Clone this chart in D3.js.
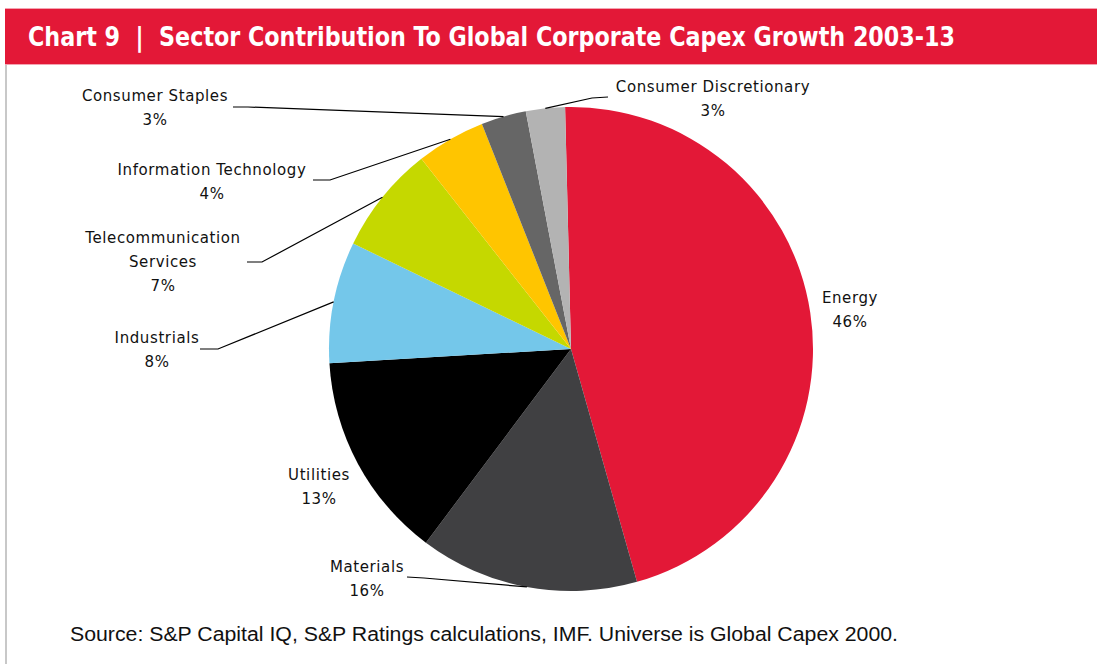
<!DOCTYPE html>
<html lang="en">
<head>
<meta charset="UTF-8">
<title>Sector Contribution To Global Corporate Capex Growth</title>
<script src="https://cdnjs.cloudflare.com/ajax/libs/d3/7.8.5/d3.min.js"></script>
<style>
  html, body { margin: 0; padding: 0; background: #fff; }
  svg { display: block; }
</style>
</head>
<body>
<div id="chart"></div>
<script>
    // data (slice share as drawn, label as printed)
    var sectors = ["Energy", "Materials", "Utilities", "Industrials",
                   "Telecommunication Services", "Information Technology",
                   "Consumer Staples", "Consumer Discretionary"];
    var shares = [45.9, 14.6, 13.8, 8.1, 7.2, 4.6, 3.0, 2.6];
    var pctLabels = ["46%", "16%", "13%", "8%", "7%", "4%", "3%", "3%"];
    var colors = ["#e31837", "#404042", "#000000", "#74c7ea",
                  "#c5d800", "#ffc500", "#666666", "#b3b3b3"];

    var W = 1097, H = 664;
    var cx = 571, cy = 349, radius = 242;

    // label layout: centre x, first baseline, text lines, leader start + kink
    var labelLayout = [
        { x: 850, y: 303, lines: ["Energy"] },
        { x: 367, y: 572, lines: ["Materials"], lead: [407, 577, 424, 578] },
        { x: 319, y: 480, lines: ["Utilities"] },
        { x: 157, y: 343, lines: ["Industrials"], lead: [200, 349, 218, 349] },
        { x: 163, y: 243, lines: ["Telecommunication", "Services"], lead: [247, 262, 262, 262] },
        { x: 212, y: 175, lines: ["Information Technology"], lead: [313, 180, 330, 180] },
        { x: 155, y: 101, lines: ["Consumer Staples"], lead: [233, 107, 248, 107] },
        { x: 713, y: 92, lines: ["Consumer Discretionary"], lead: [608, 97, 592, 98] }
    ];

    var svg = d3.select("#chart").append("svg")
        .attr("width", W)
        .attr("height", H);

    // header band
    svg.append("rect")
        .attr("x", 5).attr("y", 8)
        .attr("width", W - 5).attr("height", 57)
        .attr("fill", "#f4a3b1");
    svg.append("rect")
        .attr("x", 5).attr("y", 9)
        .attr("width", W - 5).attr("height", 55)
        .attr("fill", "#e31837");

    svg.append("text")
        .attr("x", 28).attr("y", 46)
        .attr("fill", "#fff")
        .attr("font-family", "'Liberation Sans Narrow', 'DejaVu Sans Condensed', 'Arial Narrow', sans-serif")
        .attr("font-weight", "bold")
        .attr("font-size", "27px")
        .attr("textLength", 927)
        .attr("lengthAdjust", "spacingAndGlyphs")
        .style("white-space", "pre")
        .text("Chart 9  |  Sector Contribution To Global Corporate Capex Growth 2003-13");

    // left border
    svg.append("rect")
        .attr("x", 5).attr("y", 65)
        .attr("width", 2).attr("height", H - 65)
        .attr("fill", "#c8c8c8");

    var startA = -1.4 * Math.PI / 180;
    var pie = d3.pie()
        .sort(null)
        .startAngle(startA)
        .endAngle(startA + 2 * Math.PI);

    var arc = d3.arc().innerRadius(0).outerRadius(radius);

    var arcs = pie(shares);

    var g = svg.append("g")
        .attr("transform", "translate(" + cx + "," + cy + ")");

    g.selectAll("path.slice")
        .data(arcs)
        .enter().append("path")
        .attr("class", "slice")
        .attr("d", arc)
        .attr("fill", function (d, i) { return colors[i]; });

    // leader lines, ending on the rim at mid-angle
    arcs.forEach(function (d, i) {
        var lay = labelLayout[i];
        if (!lay.lead) return;
        var mid = (d.startAngle + d.endAngle) / 2;
        var ex = cx + radius * Math.sin(mid);
        var ey = cy - radius * Math.cos(mid);
        svg.append("polyline")
            .attr("points", [lay.lead[0], lay.lead[1], lay.lead[2], lay.lead[3], ex, ey].join(","))
            .attr("fill", "none")
            .attr("stroke", "#000")
            .attr("stroke-width", 1.2);
    });

    // labels
    labelLayout.forEach(function (lay, i) {
        var t = svg.append("text")
            .attr("text-anchor", "middle")
            .attr("font-family", "'DejaVu Sans', Verdana, sans-serif")
            .attr("font-size", "15px")
            .attr("letter-spacing", "0.6px")
            .attr("fill", "#111");
        var lines = lay.lines.concat([pctLabels[i]]);
        lines.forEach(function (s, k) {
            t.append("tspan")
                .attr("x", lay.x)
                .attr("y", lay.y + k * 24)
                .text(s);
        });
    });

    // source note
    svg.append("text")
        .attr("x", 70).attr("y", 641)
        .attr("font-family", "'Liberation Sans', Arial, sans-serif")
        .attr("font-size", "20px")
        .attr("textLength", 828)
        .attr("lengthAdjust", "spacingAndGlyphs")
        .attr("fill", "#111")
        .text("Source: S&P Capital IQ, S&P Ratings calculations, IMF. Universe is Global Capex 2000.");
</script>
</body>
</html>
